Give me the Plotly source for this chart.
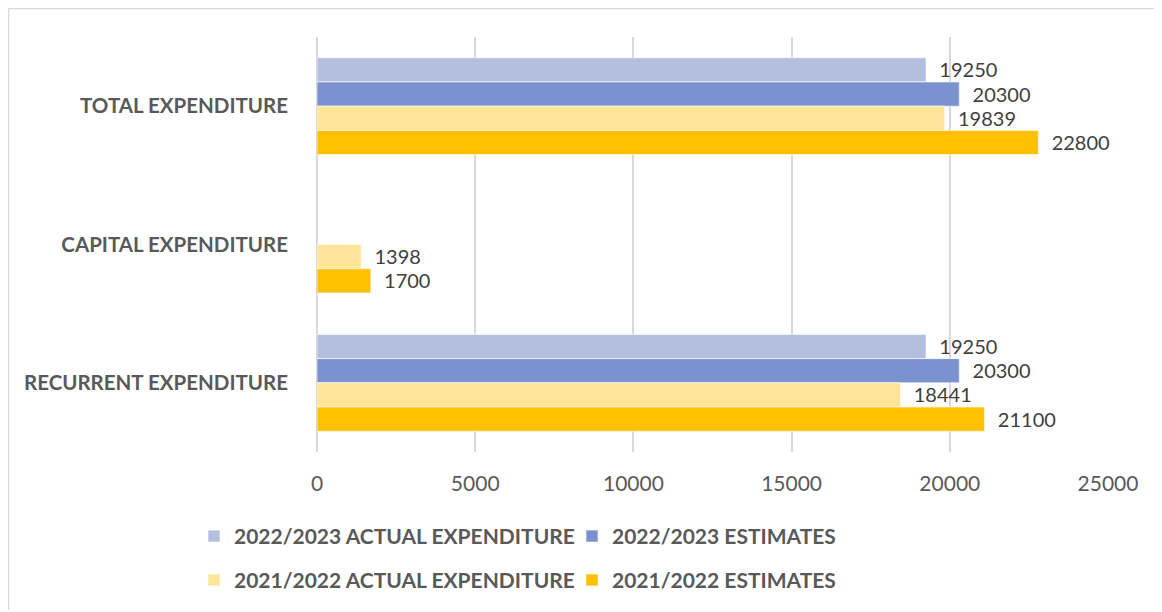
import plotly.graph_objects as go

categories = ["TOTAL EXPENDITURE", "CAPITAL EXPENDITURE", "RECURRENT EXPENDITURE"]
series_names = ["2022/2023 ACTUAL EXPENDITURE", "2022/2023 ESTIMATES",
                "2021/2022 ACTUAL EXPENDITURE", "2021/2022 ESTIMATES"]
actual_2223 = [19250, None, 19250]
estimates_2223 = [20300, None, 20300]
actual_2122 = [19839, 1398, 18441]
estimates_2122 = [22800, 1700, 21100]
tick_values = [0, 5000, 10000, 15000, 20000, 25000]
tick_labels = ["0", "5000", "10000", "15000", "20000", "25000"]

colors = ["#B4BFDF", "#7A92CF", "#FFE598", "#FFC000"]
series_values = [actual_2223, estimates_2223, actual_2122, estimates_2122]
legends = ["legend", "legend", "legend2", "legend2"]

# page has an 8px body margin; figure placed at (8, 8)
OFF = 8
W, H = 1154, 604
L, R, T, B = 309, 54, 29, 158.5

fig = go.Figure()
for name, vals, col, lg in zip(series_names, series_values, colors, legends):
    fig.add_trace(go.Bar(
        y=categories, x=vals, name=name, orientation="h",
        marker=dict(color=col, line=dict(color="rgba(255,255,255,0.6)", width=1)),
        text=[("\u00a0\u00a0" + str(v)) if v is not None else "" for v in vals],
        textposition="outside", cliponaxis=False,
        textfont=dict(family="Lato", size=21.5, color="#404040"),
        legend=lg,
    ))

def px_x(p):
    return (p - OFF - L) / (W - L - R)

def px_y(p):
    return 1 - (p - OFF - T) / (H - T - B)

legend_common = dict(
    orientation="h", xanchor="left", yanchor="middle",
    font=dict(family="Lato", size=21, color="#595959", weight="bold"),
    bgcolor="rgba(0,0,0,0)", entrywidth=333, entrywidthmode="pixels",
    itemwidth=30, traceorder="normal",
)

fig.update_layout(
    width=W, height=H,
    margin=dict(l=L, r=R, t=T, b=B, pad=0),
    paper_bgcolor="white", plot_bgcolor="white",
    barmode="group", bargap=0.3, bargroupgap=0,
    xaxis=dict(range=[0, 25000], tickvals=tick_values, ticktext=tick_labels,
               showgrid=True,
               gridcolor="#D9D9D9", gridwidth=1.5, zeroline=True,
               zerolinecolor="#D9D9D9", zerolinewidth=1.5, showline=False,
               ticks="", ticklabelstandoff=17,
               tickfont=dict(family="Lato", size=21, color="#595959")),
    yaxis=dict(autorange="reversed", showgrid=False, showline=False,
               ticks="", ticklabelstandoff=28,
               tickfont=dict(family="Lato", size=20.5, color="#595959", weight="bold")),
    legend=dict(x=px_x(194), y=px_y(537), **legend_common),
    legend2=dict(x=px_x(194), y=px_y(581), **legend_common),
    showlegend=True,
    shapes=[
        dict(type="line", xref="paper", yref="paper",
             x0=px_x(8.5), x1=px_x(1162), y0=px_y(8.5), y1=px_y(8.5),
             line=dict(color="#D9D9D9", width=1.5)),
        dict(type="line", xref="paper", yref="paper",
             x0=px_x(8.5), x1=px_x(8.5), y0=px_y(8.5), y1=px_y(612),
             line=dict(color="#D9D9D9", width=1.5)),
    ],
)

fig.write_html("out.html")
